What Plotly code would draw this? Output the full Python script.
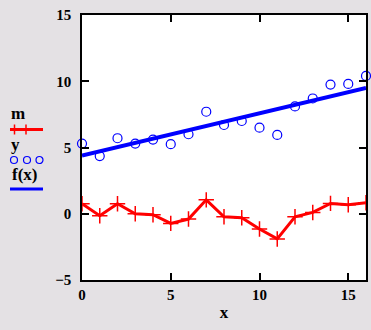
import plotly.graph_objects as go

x_vals = list(range(17))
m_vals = [0.75, -0.15, 0.75, 0.0, -0.07, -0.73, -0.4, 1.05, -0.23, -0.3,
          -1.15, -1.9, -0.23, 0.1, 0.78, 0.68, 0.83]
y_vals = [5.3, 4.35, 5.7, 5.3, 5.6, 5.25, 6.0, 7.7, 6.7, 7.0,
          6.5, 5.95, 8.1, 8.7, 9.75, 9.8, 10.4]
fit_x = [0, 16]
fit_vals = [4.4, 9.5]
x_ticks = [0, 5, 10, 15]
y_ticks = [-5, 0, 5, 10, 15]

RED = "#FF0000"
BLUE = "#0000FF"
BG = "#E4E1E4"
FONT = "Liberation Serif"

fig = go.Figure()
fig.add_trace(go.Scatter(x=x_vals, y=m_vals, mode="lines+markers",
                         line=dict(color=RED, width=3),
                         marker=dict(symbol="cross-thin", size=11,
                                     line=dict(color=RED, width=1.5)),
                         showlegend=False))
fig.add_trace(go.Scatter(x=fit_x, y=fit_vals, mode="lines",
                         line=dict(color=BLUE, width=4), showlegend=False))
fig.add_trace(go.Scatter(x=x_vals, y=y_vals, mode="markers",
                         marker=dict(symbol="circle-open", size=9,
                                     color=BLUE, line=dict(color=BLUE, width=1.2)),
                         showlegend=False, cliponaxis=False))

L, R, T, B = 82, 5, 15, 50
W, H = 371, 330
pw, ph = W - L - R, H - T - B


def px(xp):
    return (xp - L) / pw


def py(yp):
    return (H - B - yp) / ph


shapes = [
    dict(type="line", xref="paper", yref="paper", x0=px(10), x1=px(43),
         y0=py(129.5), y1=py(129.5), line=dict(color=RED, width=3)),
    dict(type="line", xref="paper", yref="paper", x0=px(10), x1=px(43),
         y0=py(189), y1=py(189), line=dict(color=BLUE, width=3)),
]
for cx in [14.5, 26]:
    shapes.append(dict(type="line", xref="paper", yref="paper", x0=px(cx), x1=px(cx),
                       y0=py(124.5), y1=py(134.5), line=dict(color=RED, width=1.5)))
for cx in [14, 27, 39.5]:
    shapes.append(dict(type="circle", xref="paper", yref="paper",
                       x0=px(cx - 3.5), x1=px(cx + 3.5), y0=py(163.5), y1=py(156.5),
                       line=dict(color=BLUE, width=1.2)))

lab_font = dict(family=FONT, size=17, color="black", weight="bold")
annotations = [
    dict(text="m", x=px(18), y=py(113), xref="paper", yref="paper",
         xanchor="center", yanchor="middle", showarrow=False, font=lab_font),
    dict(text="y", x=px(15), y=py(144), xref="paper", yref="paper",
         xanchor="center", yanchor="middle", showarrow=False, font=lab_font),
    dict(text="f(x)", x=px(24), y=py(174), xref="paper", yref="paper",
         xanchor="center", yanchor="middle", showarrow=False, font=lab_font),
]

axis_common = dict(showgrid=False, zeroline=False, showline=True, linecolor="black",
                   linewidth=1.5, mirror="ticks", ticks="inside", ticklen=7,
                   tickcolor="black", tickwidth=1.5, automargin=False,
                   tickfont=dict(family=FONT, size=15, color="black", weight="bold"))

fig.update_layout(
    width=W, height=H,
    margin=dict(l=L, r=R, t=T, b=B),
    paper_bgcolor=BG, plot_bgcolor="white",
    xaxis=dict(range=[0, 16], tickvals=x_ticks,
               title=dict(text="x", font=lab_font, standoff=4),
               **axis_common),
    yaxis=dict(range=[-5, 15], tickvals=y_ticks, ticklabelstandoff=6, **axis_common),
    shapes=shapes, annotations=annotations,
)
fig.write_html("out.html", config={"displayModeBar": False},
               post_script="document.body.style.margin='0';document.body.style.padding='0';")
